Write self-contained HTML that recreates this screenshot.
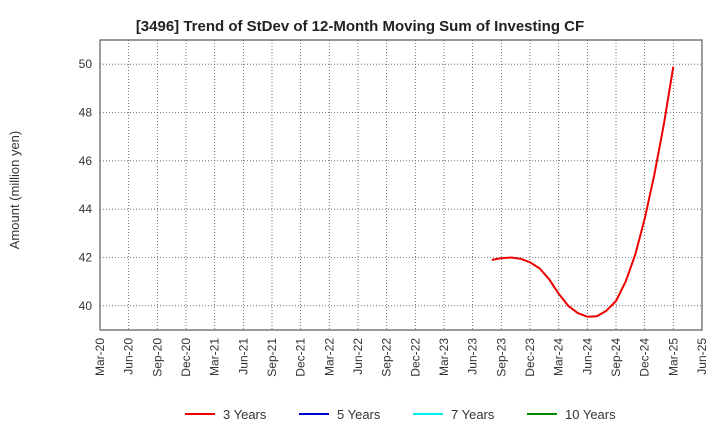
<!DOCTYPE html>
<html><head><meta charset="utf-8"><style>
body{margin:0;background:#fff;font-family:"Liberation Sans",sans-serif;}
svg text{font-family:"Liberation Sans",sans-serif;}
</style></head><body>
<svg id="chart" width="720" height="440" xmlns="http://www.w3.org/2000/svg">
<text x="360" y="31" text-anchor="middle" font-size="15" font-weight="bold" fill="#222">[3496]  Trend of StDev of 12-Month Moving Sum of Investing CF</text>
<text transform="translate(19,190) rotate(-90)" text-anchor="middle" font-size="13" fill="#333">Amount (million yen)</text>
<g id="grid"></g><g id="axes"></g><g id="series"></g><g id="legend"></g>
</svg>
<script>
const xTickLabels=["Mar-20","Jun-20","Sep-20","Dec-20","Mar-21","Jun-21","Sep-21","Dec-21","Mar-22","Jun-22","Sep-22","Dec-22","Mar-23","Jun-23","Sep-23","Dec-23","Mar-24","Jun-24","Sep-24","Dec-24","Mar-25","Jun-25"];
const yTicks=[40,42,44,46,48,50];
const seriesStartMonth=41; // months since Mar-20 (Aug-23)
const series3Y=[41.9,41.97,42.0,41.95,41.8,41.55,41.1,40.5,40.0,39.7,39.55,39.57,39.8,40.2,41.0,42.1,43.6,45.4,47.5,49.9];
const legendLabels=["3 Years","5 Years","7 Years","10 Years"];
const legendColors=["#e00","#00c","#0ee","#080"];

const L=100,R=702,T=40,B=330,yMin=39,yMax=51,totalMonths=63;
const xs=m=>L+(R-L)*m/totalMonths;
const ys=v=>B-(B-T)*(v-yMin)/(yMax-yMin);
const NS="http://www.w3.org/2000/svg";
function mk(tag,attrs,parent){const e=document.createElementNS(NS,tag);for(const k in attrs)e.setAttribute(k,attrs[k]);parent.appendChild(e);return e;}
const grid=document.getElementById('grid'),axes=document.getElementById('axes'),ser=document.getElementById('series'),leg=document.getElementById('legend');
const bg=mk('rect',{x:L,y:T,width:R-L,height:B-T,fill:'#fff',stroke:'#333','stroke-width':1},grid);


xTickLabels.forEach((lab,i)=>{
  const x=xs(i*3);
  const g=mk('line',{x1:x,x2:x,y1:T,y2:B,stroke:'#555','stroke-width':0.8,'stroke-dasharray':'1,2'},grid);
  
  
  const t=mk('text',{transform:`translate(${x+4},${B+8}) rotate(-90)`,'text-anchor':'end','font-size':12,fill:'#333'},axes);
  t.textContent=lab;
  
  
});
yTicks.forEach(v=>{
  const y=ys(v);
  const g=mk('line',{x1:L,x2:R,y1:y,y2:y,stroke:'#555','stroke-width':0.8,'stroke-dasharray':'1,2'},grid);
  
  
  const t=mk('text',{x:L-8,y:y+4,'text-anchor':'end','font-size':12,fill:'#333'},axes);
  t.textContent=v;
  
  
});
const pts=series3Y.map((v,i)=>xs(seriesStartMonth+i).toFixed(1)+','+ys(v).toFixed(1)).join(' ');
const pl=mk('polyline',{points:pts,fill:'none',stroke:'#e00','stroke-width':2,'stroke-linejoin':'round'},ser);


const lx=[185,299,413,527];
legendLabels.forEach((lab,i)=>{
  const l=mk('line',{x1:lx[i],x2:lx[i]+30,y1:414,y2:414,stroke:legendColors[i],'stroke-width':2},leg);
  
  
  const t=mk('text',{x:lx[i]+38,y:419,'font-size':13,fill:'#333'},leg);
  t.textContent=lab;
  
  
});
</script>
</body></html>
